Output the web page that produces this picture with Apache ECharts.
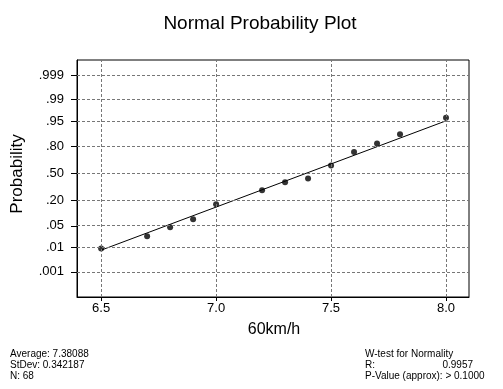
<!DOCTYPE html>
<html>
<head>
<meta charset="utf-8">
<script src="https://cdn.jsdelivr.net/npm/echarts@6/dist/echarts.min.js"></script>
<style>
html,body{margin:0;padding:0;background:#fff;}
#c{width:503px;height:389px;}
</style>
</head>
<body>
<div id="c"></div>
<script>
// ---- data ----
var speeds = [6.5, 6.7, 6.8, 6.9, 7.0, 7.2, 7.3, 7.4, 7.5, 7.6, 7.7, 7.8, 8.0];
var normalScores = [-2.36, -1.97, -1.69, -1.44, -0.97, -0.53, -0.28, -0.16, 0.25, 0.67, 0.94, 1.23, 1.75];
var fitX = [6.5, 8.0];
var fitZ = [-2.41, 1.65];
var xTicks = [6.5, 7.0, 7.5, 8.0];
var probTicks = [0.001, 0.01, 0.05, 0.20, 0.50, 0.80, 0.95, 0.99, 0.999];
var probLabels = ['.001', '.01', '.05', '.20', '.50', '.80', '.95', '.99', '.999'];
var statsLeft = ['Average: 7.38088', 'StDev: 0.342187', 'N: 68'];
var statsRight = ['W-test for Normality', 'R:', '0.9957', 'P-Value (approx): > 0.1000'];

// inverse standard normal CDF (axis transform for the probability scale)
function probit(p) {
  var a = [-3.969683028665376e+01, 2.209460984245205e+02, -2.759285104469687e+02, 1.383577518672690e+02, -3.066479806614716e+01, 2.506628277459239e+00];
  var b = [-5.447609879822406e+01, 1.615858368580409e+02, -1.556989798598866e+02, 6.680131188771972e+01, -1.328068155288572e+01];
  var c = [-7.784894002430293e-03, -3.223964580411365e-01, -2.400758277161838e+00, -2.549732539343734e+00, 4.374664141464968e+00, 2.938163982698783e+00];
  var d = [7.784695709041462e-03, 3.224671290700398e-01, 2.445134137142996e+00, 3.754408661907416e+00];
  var pl = 0.02425, q, r;
  if (p < pl) { q = Math.sqrt(-2 * Math.log(p)); return (((((c[0]*q+c[1])*q+c[2])*q+c[3])*q+c[4])*q+c[5]) / ((((d[0]*q+d[1])*q+d[2])*q+d[3])*q+1); }
  if (p > 1 - pl) { q = Math.sqrt(-2 * Math.log(1 - p)); return -(((((c[0]*q+c[1])*q+c[2])*q+c[3])*q+c[4])*q+c[5]) / ((((d[0]*q+d[1])*q+d[2])*q+d[3])*q+1); }
  q = p - 0.5; r = q * q;
  return (((((a[0]*r+a[1])*r+a[2])*r+a[3])*r+a[4])*r+a[5])*q / (((((b[0]*r+b[1])*r+b[2])*r+b[3])*r+b[4])*r+1);
}
var zTicks = probTicks.map(probit);

var FONT = 'Liberation Sans, Arial, sans-serif';
var chart = echarts.init(document.getElementById('c'), null, {renderer: 'canvas'});

var gridLines = [];
xTicks.forEach(function (v) { gridLines.push({xAxis: v}); });
zTicks.forEach(function (v) { gridLines.push({yAxis: v}); });

function txt(x, y, s, size, align) {
  return {type: 'text', x: x, y: y, silent: true,
    style: {text: s, fontFamily: FONT, fontSize: size, fill: '#000', textAlign: align || 'left', textVerticalAlign: 'middle'}};
}

chart.setOption({
  animation: false,
  backgroundColor: '#fff',
  grid: {left: 77, right: 34, top: 60, bottom: 92, show: true, borderColor: '#000', borderWidth: 1, backgroundColor: 'transparent'},
  xAxis: {
    type: 'value', min: 6.395, max: 8.1,
    axisLine: {onZero: false, lineStyle: {color: '#000', width: 1}},
    axisTick: {show: true, length: 4, customValues: xTicks, lineStyle: {color: '#000'}},
    axisLabel: {customValues: xTicks, margin: 5, fontFamily: FONT, fontSize: 13, color: '#000',
      formatter: function (v) { return v.toFixed(1); }},
    splitLine: {show: false}
  },
  yAxis: {
    type: 'value', min: -3.88, max: 3.56,
    axisLine: {show: true, onZero: false, lineStyle: {color: '#000', width: 1}},
    axisTick: {show: true, length: 6, customValues: zTicks, lineStyle: {color: '#000'}},
    axisLabel: {customValues: zTicks, margin: 13, fontFamily: FONT, fontSize: 13, color: '#000',
      formatter: function (v) {
        var best = 0, bd = 1e9;
        for (var i = 0; i < zTicks.length; i++) { var dd = Math.abs(zTicks[i] - v); if (dd < bd) { bd = dd; best = i; } }
        return probLabels[best];
      }},
    splitLine: {show: false}
  },
  series: [
    {
      type: 'line', data: [], silent: true,
      markLine: {silent: true, symbol: 'none', label: {show: false},
        lineStyle: {color: '#777', width: 1, type: [3, 2]}, data: gridLines}
    },
    {
      type: 'line', data: fitX.map(function (x, i) { return [x, fitZ[i]]; }),
      symbol: 'none', lineStyle: {color: '#000', width: 1}, silent: true, z: 3
    },
    {
      type: 'scatter', data: speeds.map(function (x, i) { return [x, normalScores[i]]; }),
      symbol: 'circle', symbolSize: 6, itemStyle: {color: '#000'}, silent: true, z: 4
    }
  ],
  graphic: [
    txt(260, 24, 'Normal Probability Plot', 19, 'center'),
    {type: 'text', x: 17, y: 174, rotation: Math.PI / 2, silent: true,
      style: {text: 'Probability', fontFamily: FONT, fontSize: 17, fill: '#000', textAlign: 'center', textVerticalAlign: 'middle'}},
    txt(274, 330, '60km/h', 16, 'center'),
    txt(10, 354, statsLeft[0], 10),
    txt(10, 365, statsLeft[1], 10),
    txt(10, 376, statsLeft[2], 10),
    txt(365, 354, statsRight[0], 10),
    txt(365, 365, statsRight[1], 10),
    txt(473, 365, statsRight[2], 10, 'right'),
    txt(365, 376, statsRight[3], 10)
  ]
});
</script>
</body>
</html>
